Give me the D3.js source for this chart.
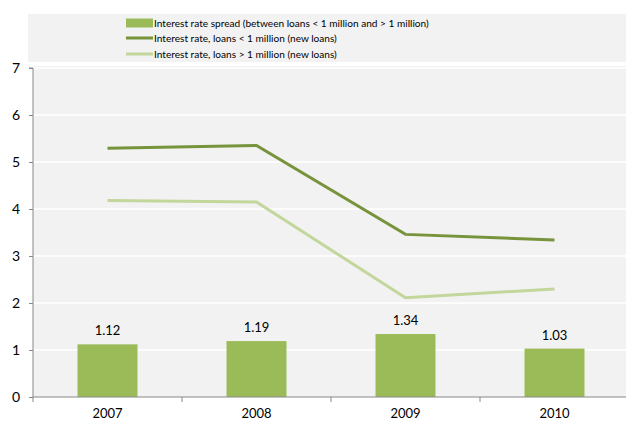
<!DOCTYPE html>
<html><head><meta charset="utf-8">
<script src="https://cdn.jsdelivr.net/npm/d3@7"></script>
<style>body{margin:0;background:#fff;}svg{display:block;font-family:Lato,"Open Sans",sans-serif;}</style>
</head><body>
<svg id="c" width="626" height="425"></svg>
<script>
const years = ["2007","2008","2009","2010"];
const spread = [1.12, 1.19, 1.34, 1.03];
const rateSmall = [5.29, 5.35, 3.46, 3.34];
const rateLarge = [4.18, 4.15, 2.11, 2.30];
const yTicks = [0,1,2,3,4,5,6,7];
const legendLabels = [
  "Interest rate spread (between loans < 1 million and > 1 million)",
  "Interest rate, loans < 1 million (new loans)",
  "Interest rate, loans > 1 million (new loans)"
];
const colBar = "#9bbb59", colDark = "#77933c", colLight = "#c3d69b";

const svg = d3.select("#c");
const m = {l:33, r:629, t:68, b:397};
const x = d3.scaleBand().domain(years).range([m.l, m.r]).paddingInner(0).paddingOuter(0);
const y = d3.scaleLinear().domain([0,7]).range([m.b, m.t]);

// backgrounds
svg.append("rect").attr("x",28).attr("y",14).attr("width",598).attr("height",48).attr("fill","#f2f2f2");
svg.append("rect").attr("x",m.l).attr("y",66).attr("width",626-m.l).attr("height",m.b-66).attr("fill","#f2f2f2");

// gridlines
svg.append("g").selectAll("line").data(yTicks.filter(d=>d>0)).join("line")
  .attr("x1",m.l).attr("x2",626).attr("y1",d=>y(d)).attr("y2",d=>y(d))
  .attr("stroke","#fff").attr("stroke-width",1.5);

// bars
const bw = 60;
svg.append("g").selectAll("rect").data(spread).join("rect")
  .attr("x",(d,i)=>x(years[i])+x.bandwidth()/2-bw/2)
  .attr("width",bw)
  .attr("y",d=>y(d)).attr("height",d=>y(0)-y(d)).attr("fill",colBar);

svg.append("g").selectAll("text").data(spread).join("text")
  .attr("x",(d,i)=>x(years[i])+x.bandwidth()/2)
  .attr("y",d=>y(d)-9)
  .attr("text-anchor","middle").attr("font-size",13).attr("fill","#000")
  .text(d=>d.toFixed(2));

// lines
const line = d3.line().x((d,i)=>x(years[i])+x.bandwidth()/2).y(d=>y(d));
svg.append("path").datum(rateLarge).attr("d",line).attr("fill","none").attr("stroke",colLight).attr("stroke-width",3);
svg.append("path").datum(rateSmall).attr("d",line).attr("fill","none").attr("stroke",colDark).attr("stroke-width",3);

// y axis
const ya = svg.append("g").attr("transform",`translate(${m.l},0)`)
  .call(d3.axisLeft(y).tickValues(yTicks).tickFormat(d3.format("d")).tickSize(4).tickPadding(9));
ya.select(".domain").attr("stroke","#888").attr("d",`M-4,${y(7)}H0V${y(0)}`);
ya.selectAll(".tick line").attr("stroke","#888");
ya.selectAll("text").attr("font-size",14).attr("font-family","Lato,'Open Sans',sans-serif").attr("fill","#000");

// x axis
const xa = svg.append("g").attr("transform",`translate(0,${m.b})`);
xa.append("line").attr("x1",m.l).attr("x2",626).attr("stroke","#888");
xa.selectAll("line.t").data(years.concat(["end"])).join("line").attr("class","t")
  .attr("x1",(d,i)=>m.l+i*x.bandwidth()).attr("x2",(d,i)=>m.l+i*x.bandwidth())
  .attr("y1",0).attr("y2",5).attr("stroke","#888");
xa.selectAll("text").data(years).join("text")
  .attr("x",d=>x(d)+x.bandwidth()/2).attr("y",21)
  .attr("text-anchor","middle").attr("font-size",13).attr("fill","#000").text(d=>d);

// legend
const lg = svg.append("g");
const ly = [23,38,54];
lg.append("rect").attr("x",126).attr("y",ly[0]-4.5).attr("width",27).attr("height",9).attr("fill",colBar);
lg.append("line").attr("x1",126).attr("x2",153).attr("y1",ly[1]).attr("y2",ly[1]).attr("stroke",colDark).attr("stroke-width",3);
lg.append("line").attr("x1",126).attr("x2",153).attr("y1",ly[2]).attr("y2",ly[2]).attr("stroke",colLight).attr("stroke-width",3);
lg.selectAll("text").data(legendLabels).join("text")
  .attr("x",154).attr("y",(d,i)=>ly[i]+4).attr("font-size",10.1).attr("fill","#000").text(d=>d);
</script>
</body></html>
